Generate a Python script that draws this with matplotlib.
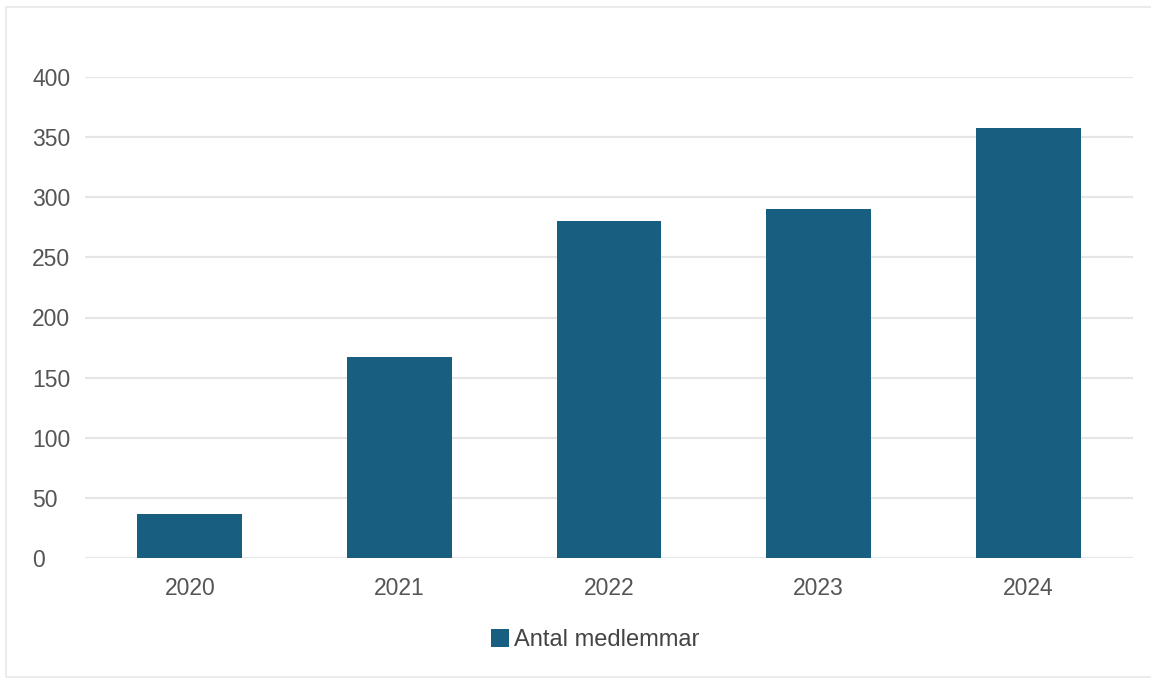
import matplotlib.pyplot as plt
from matplotlib.lines import Line2D

years = ["2020", "2021", "2022", "2023", "2024"]
members = [37, 167, 280, 290, 358]
yticks = [0, 50, 100, 150, 200, 250, 300, 350, 400]

W, H = 1151, 678
barColor = "#175e80"
textColor = "#555555"
fontSize = 16.5

plt.rcParams["font.family"] = ["Liberation Sans", "DejaVu Sans"]

fig = plt.figure(figsize=(W / 100, H / 100), dpi=100)
fig.patch.set_facecolor("white")

# light frame: top, left and bottom only (right edge is cut off)
frameX = [W, 6, 6, W]
frameY = [7, 7, 677, 677]
fig.add_artist(Line2D([x / W for x in frameX], [1 - y / H for y in frameY],
                      transform=fig.transFigure, color="#ebebeb", linewidth=1.5))

ax = fig.add_axes([85 / W, 1 - 558 / H, (1133 - 85) / W, (558 - 77) / H])
ax.bar(range(len(years)), members, width=0.5, color=barColor, zorder=3,
       label="Antal medlemmar")

ax.set_xlim(-0.5, len(years) - 0.5)
ax.set_ylim(0, 400)
ax.set_yticks(yticks)
ax.set_xticks(range(len(years)))
ax.set_xticklabels(years)

ax.grid(axis="y", color="#e6e6e6", linewidth=1.6, zorder=0)
for s in ax.spines.values():
    s.set_visible(False)
ax.tick_params(axis="both", length=0, labelsize=fontSize, colors=textColor)
ax.tick_params(axis="y", pad=38)
ax.tick_params(axis="x", pad=14)
for lbl in ax.get_yticklabels():
    lbl.set_horizontalalignment("left")

leg = ax.legend(loc="center", bbox_to_anchor=(595 / W, 1 - 640 / H),
                bbox_transform=fig.transFigure, frameon=False,
                handlelength=0.8, handleheight=0.8, handletextpad=0.2,
                fontsize=17)
for t in leg.get_texts():
    t.set_color("#444444")

fig.savefig("out.png", dpi=100)
